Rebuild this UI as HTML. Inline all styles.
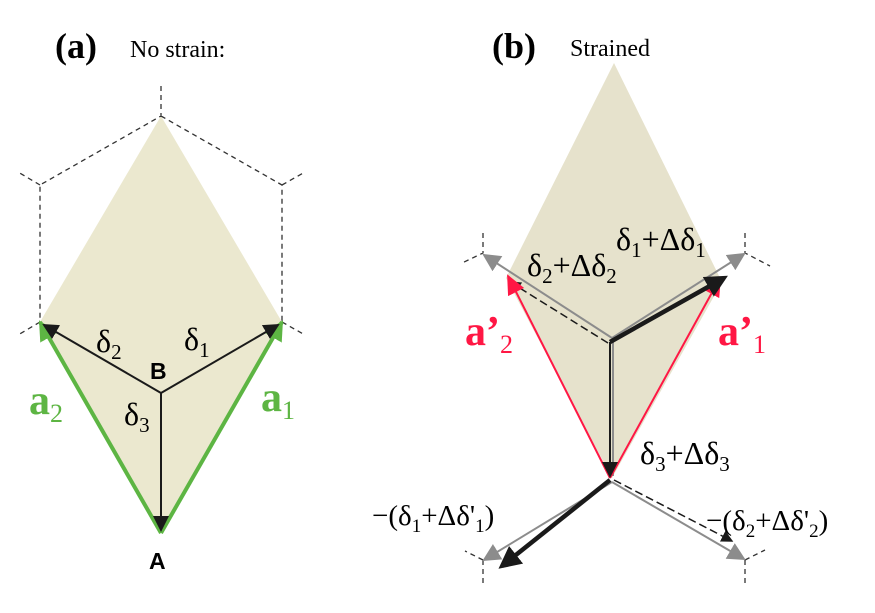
<!DOCTYPE html><html><head><style>body{margin:0;background:#fff}svg{display:block}text{font-family:"Liberation Serif",serif}</style></head><body>
<svg width="875" height="613" viewBox="0 0 875 613" xmlns="http://www.w3.org/2000/svg">
<defs>
<marker id="mk" markerWidth="8" markerHeight="8" refX="7" refY="4" orient="auto" markerUnits="strokeWidth"><path d="M0,0L8,4L0,8z" fill="#1a1a1a"/></marker>
<marker id="mk2" markerWidth="5" markerHeight="5" refX="4" refY="2.5" orient="auto" markerUnits="strokeWidth"><path d="M0,0L5,2.5L0,5z" fill="#1a1a1a"/></marker>
<marker id="mk3" markerWidth="10" markerHeight="10" refX="9" refY="5" orient="auto" markerUnits="strokeWidth"><path d="M0,0L10,5L0,10z" fill="#1a1a1a"/></marker>
<marker id="mg" markerWidth="5" markerHeight="5" refX="4.5" refY="2.5" orient="auto" markerUnits="strokeWidth"><path d="M0,0L5,2.5L0,5z" fill="#5db543"/></marker>
<marker id="mr" markerWidth="10" markerHeight="9" refX="9" refY="4.5" orient="auto" markerUnits="strokeWidth"><path d="M0,0L10,4.5L0,9z" fill="#ff1744"/></marker>
<marker id="mgr" markerWidth="9" markerHeight="9" refX="8" refY="4.5" orient="auto" markerUnits="strokeWidth"><path d="M0,0L9,4.5L0,9z" fill="#8c8c8c"/></marker>
</defs>
<!-- panel a -->
<polygon points="161,116 40,322 161,533 282,322" fill="#ebe8cf"/>
<g stroke="#333" stroke-width="1.3" stroke-dasharray="5,4" fill="none">
<path d="M161,86V116L40,185V322M161,116L282,185V322M40,185L18,172M282,185L305,172M40,322L18,335M282,322L305,335"/>
</g>
<g stroke="#5db543" stroke-width="4" fill="none">
<line x1="161" y1="533" x2="40" y2="322" marker-end="url(#mg)"/>
<line x1="161" y1="533" x2="282" y2="322" marker-end="url(#mg)"/>
</g>
<g stroke="#1a1a1a" stroke-width="2" fill="none">
<line x1="161" y1="393" x2="44" y2="325" marker-end="url(#mk)"/>
<line x1="161" y1="393" x2="278" y2="325" marker-end="url(#mk)"/>
<line x1="161" y1="393" x2="161" y2="530" marker-end="url(#mk)"/>
</g>
<text x="96" y="352" font-size="32">δ<tspan font-size="21" dy="7">2</tspan></text>
<text x="184" y="350" font-size="32">δ<tspan font-size="21" dy="7">1</tspan></text>
<text x="124" y="425" font-size="32">δ<tspan font-size="21" dy="7">3</tspan></text>
<text x="150" y="379" font-size="23" font-weight="bold" style="font-family:'Liberation Sans',sans-serif">B</text>
<text x="149" y="569" font-size="23" font-weight="bold" style="font-family:'Liberation Sans',sans-serif">A</text>
<text x="29" y="414" font-size="42" font-weight="bold" fill="#5db543">a<tspan font-size="26" font-weight="normal" dy="8">2</tspan></text>
<text x="261" y="411" font-size="42" font-weight="bold" fill="#5db543">a<tspan font-size="26" font-weight="normal" dy="8">1</tspan></text>
<text x="55" y="58" font-size="36" font-weight="bold">(a)</text>
<text x="130" y="57" font-size="24">No strain:</text>
<!-- panel b -->
<polygon points="614,63 506,278 612,478 722,282" fill="#e6e2cc"/>
<g stroke="#333" stroke-width="1.3" stroke-dasharray="5,4" fill="none">
<path d="M483,233V253L462,263M745,233V253L770,266M483,560V585M745,560V585M483,560L465,551M745,560L765,550"/>
</g>
<g stroke="#8c8c8c" stroke-width="2" fill="none">
<line x1="612" y1="338" x2="484" y2="255" marker-end="url(#mgr)"/>
<line x1="612" y1="338" x2="744" y2="254" marker-end="url(#mgr)"/>
<line x1="612" y1="482" x2="484" y2="560" marker-end="url(#mgr)"/>
<line x1="612" y1="482" x2="744" y2="559" marker-end="url(#mgr)"/>
<line x1="613" y1="340" x2="613" y2="476"/>
</g>
<g stroke="#1a1a1a" stroke-width="1.5" stroke-dasharray="8,4" fill="none">
<line x1="608" y1="343" x2="510" y2="282" marker-end="url(#mk)"/>
<line x1="614" y1="480" x2="732" y2="541" marker-end="url(#mk)"/>
</g>
<g stroke="#ff1744" stroke-width="2" fill="none">
<line x1="610" y1="478" x2="508" y2="276" marker-end="url(#mr)"/>
<line x1="610" y1="478" x2="720" y2="278" marker-end="url(#mr)"/>
</g>
<g stroke="#1a1a1a" fill="none">
<line x1="610" y1="342" x2="724" y2="278" stroke-width="4.5" marker-end="url(#mk2)"/>
<line x1="610" y1="342" x2="610" y2="476" stroke-width="2" marker-end="url(#mk)"/>
<line x1="610" y1="480" x2="502" y2="566" stroke-width="4.5" marker-end="url(#mk2)"/>
</g>
<text x="616" y="250" font-size="32">δ<tspan font-size="21" dy="7">1</tspan><tspan dy="-7">+Δδ</tspan><tspan font-size="21" dy="7">1</tspan></text>
<text x="527" y="276" font-size="32">δ<tspan font-size="21" dy="7">2</tspan><tspan dy="-7">+Δδ</tspan><tspan font-size="21" dy="7">2</tspan></text>
<text x="640" y="464" font-size="32">δ<tspan font-size="21" dy="7">3</tspan><tspan dy="-7">+Δδ</tspan><tspan font-size="21" dy="7">3</tspan></text>
<text x="372" y="525" font-size="29">−(δ<tspan font-size="19" dy="7">1</tspan><tspan dy="-7">+Δδ'</tspan><tspan font-size="19" dy="7">1</tspan><tspan dy="-7">)</tspan></text>
<text x="706" y="530" font-size="29">−(δ<tspan font-size="19" dy="7">2</tspan><tspan dy="-7">+Δδ'</tspan><tspan font-size="19" dy="7">2</tspan><tspan dy="-7">)</tspan></text>
<text x="465" y="345" font-size="42" font-weight="bold" fill="#ff1744">a’<tspan font-size="26" font-weight="normal" dy="8">2</tspan></text>
<text x="718" y="345" font-size="42" font-weight="bold" fill="#ff1744">a’<tspan font-size="26" font-weight="normal" dy="8">1</tspan></text>
<text x="492" y="58" font-size="36" font-weight="bold">(b)</text>
<text x="570" y="56" font-size="24">Strained</text>
</svg></body></html>
